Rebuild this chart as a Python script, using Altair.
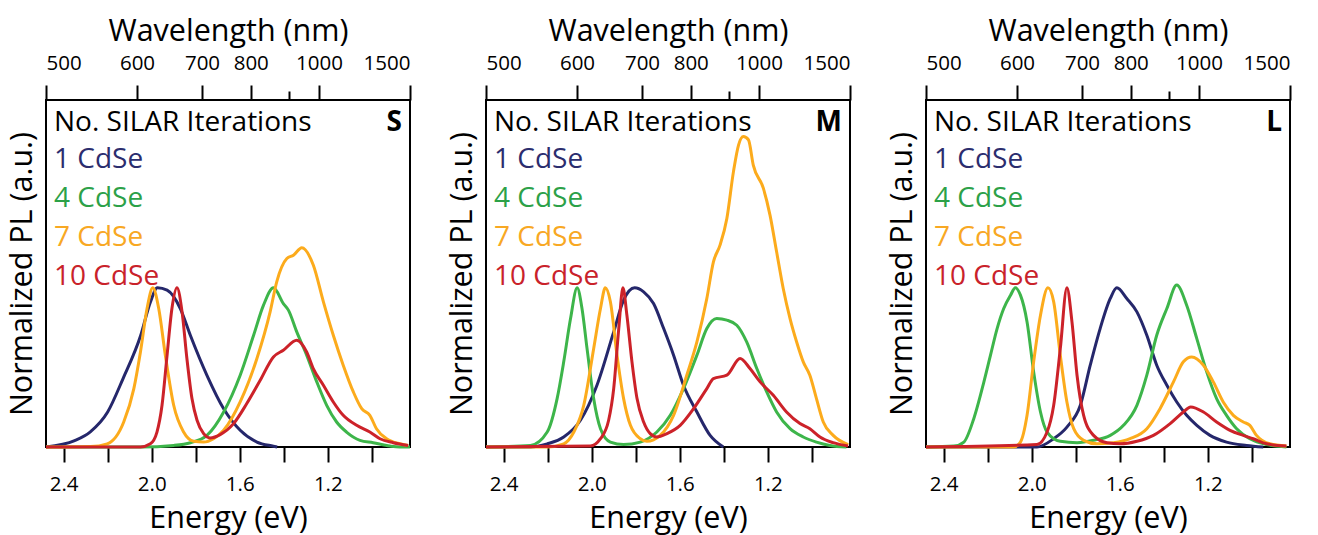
import altair as alt
import pandas as pd

# ---------------- data (energy in eV, normalized PL) ----------------
# Panel S
S1_E = [2.48, 2.35, 2.28, 2.2, 2.13, 2.05, 2.006, 1.974, 1.93, 1.87, 1.824, 1.749, 1.673, 1.598, 1.522, 1.447, 1.43]
S1_I = [0.0, 0.04, 0.094, 0.22, 0.43, 0.70, 0.91, 1.0, 0.985, 0.87, 0.70, 0.45, 0.24, 0.105, 0.031, 0.005, 0.0]
S4_E = [2.48, 2.05, 1.90, 1.824, 1.749, 1.673, 1.598, 1.537, 1.492, 1.447, 1.402, 1.379, 1.341, 1.296, 1.250, 1.205, 1.160, 1.115, 1.054, 0.994, 0.918, 0.873, 0.827]
S4_I = [0.0, 0.0, 0.01, 0.027, 0.073, 0.22, 0.451, 0.702, 0.891, 1.0, 0.901, 0.86, 0.723, 0.577, 0.409, 0.262, 0.157, 0.094, 0.042, 0.027, 0.006, 0.0, 0.0]
S7_E = [2.48, 2.278, 2.202, 2.127, 2.081, 2.051, 2.021, 1.995, 1.968, 1.938, 1.900, 1.855, 1.809, 1.764, 1.719, 1.673, 1.598, 1.522, 1.462, 1.432, 1.386, 1.356, 1.318, 1.266, 1.220, 1.175, 1.130, 1.084, 1.046, 1.009, 0.979, 0.933, 0.873, 0.835]
S7_I = [0.0, 0.003, 0.02, 0.157, 0.367, 0.597, 0.87, 1.0, 0.87, 0.577, 0.262, 0.094, 0.036, 0.031, 0.052, 0.105, 0.283, 0.556, 0.849, 1.038, 1.184, 1.205, 1.252, 1.143, 0.912, 0.702, 0.514, 0.346, 0.241, 0.199, 0.115, 0.052, 0.02, 0.01]
S10_E = [2.48, 2.051, 2.006, 1.976, 1.953, 1.930, 1.908, 1.885, 1.862, 1.840, 1.817, 1.794, 1.764, 1.734, 1.689, 1.628, 1.568, 1.507, 1.447, 1.402, 1.341, 1.296, 1.266, 1.220, 1.175, 1.130, 1.069, 1.009, 0.963, 0.903, 0.835]
S10_I = [0.0, 0.0, 0.02, 0.094, 0.262, 0.577, 0.87, 1.0, 0.849, 0.556, 0.304, 0.168, 0.084, 0.057, 0.078, 0.147, 0.273, 0.419, 0.566, 0.608, 0.671, 0.597, 0.493, 0.388, 0.283, 0.199, 0.136, 0.094, 0.052, 0.027, 0.01]

# Panel M
M1_E = [2.48, 2.278, 2.202, 2.127, 2.051, 1.976, 1.900, 1.855, 1.805, 1.764, 1.719, 1.673, 1.628, 1.583, 1.522, 1.462, 1.402]
M1_I = [0.0, 0.0, 0.02, 0.063, 0.168, 0.388, 0.723, 0.922, 1.0, 0.975, 0.901, 0.744, 0.577, 0.388, 0.22, 0.073, 0.0]
M4_E = [2.48, 2.278, 2.202, 2.157, 2.127, 2.096, 2.066, 2.044, 2.021, 1.991, 1.960, 1.915, 1.855, 1.779, 1.704, 1.643, 1.583, 1.522, 1.477, 1.432, 1.386, 1.341, 1.296, 1.250, 1.205, 1.160, 1.099, 1.039, 0.979, 0.918, 0.843]
M4_I = [0.0, 0.01, 0.094, 0.304, 0.535, 0.807, 1.0, 0.87, 0.618, 0.304, 0.115, 0.031, 0.015, 0.031, 0.094, 0.199, 0.367, 0.577, 0.744, 0.807, 0.797, 0.765, 0.66, 0.493, 0.346, 0.22, 0.115, 0.063, 0.031, 0.01, 0.0]
M7_E = [2.48, 2.202, 2.127, 2.081, 2.036, 1.991, 1.960, 1.938, 1.915, 1.885, 1.855, 1.824, 1.779, 1.749, 1.689, 1.628, 1.568, 1.522, 1.477, 1.447, 1.417, 1.386, 1.356, 1.333, 1.311, 1.288, 1.266, 1.220, 1.190, 1.160, 1.130, 1.099, 1.069, 1.039, 1.009, 0.979, 0.948, 0.903, 0.835]
M7_I = [0.0, 0.0, 0.02, 0.094, 0.262, 0.618, 0.87, 1.0, 0.912, 0.577, 0.304, 0.136, 0.052, 0.036, 0.073, 0.199, 0.451, 0.66, 0.933, 1.163, 1.268, 1.436, 1.73, 1.897, 1.95, 1.93, 1.771, 1.625, 1.457, 1.226, 0.996, 0.807, 0.66, 0.535, 0.451, 0.304, 0.157, 0.073, 0.015]
M10_E = [2.48, 2.006, 1.960, 1.923, 1.900, 1.877, 1.858, 1.840, 1.817, 1.794, 1.764, 1.734, 1.704, 1.658, 1.598, 1.537, 1.477, 1.447, 1.386, 1.326, 1.281, 1.235, 1.175, 1.115, 1.054, 1.009, 0.963, 0.903, 0.835]
M10_I = [0.0, 0.006, 0.052, 0.168, 0.367, 0.744, 1.0, 0.828, 0.535, 0.304, 0.157, 0.084, 0.063, 0.084, 0.136, 0.241, 0.367, 0.43, 0.451, 0.556, 0.493, 0.409, 0.325, 0.22, 0.147, 0.115, 0.063, 0.027, 0.006]

# Panel L
L1_E = [2.48, 1.976, 1.900, 1.840, 1.779, 1.734, 1.689, 1.643, 1.613, 1.568, 1.522, 1.477, 1.432, 1.386, 1.341, 1.296, 1.250, 1.190, 1.115, 1.024, 0.948]
L1_I = [0.0, 0.0, 0.052, 0.125, 0.262, 0.514, 0.744, 0.933, 1.0, 0.933, 0.849, 0.702, 0.514, 0.388, 0.283, 0.199, 0.136, 0.073, 0.031, 0.01, 0.0]
L4_E = [2.48, 2.353, 2.308, 2.263, 2.217, 2.187, 2.157, 2.127, 2.096, 2.074, 2.051, 2.021, 1.991, 1.960, 1.930, 1.870, 1.794, 1.719, 1.643, 1.583, 1.522, 1.477, 1.432, 1.386, 1.341, 1.296, 1.250, 1.205, 1.160, 1.115, 1.069, 1.009, 0.933, 0.843]
L4_I = [0.0, 0.006, 0.031, 0.178, 0.409, 0.577, 0.744, 0.87, 0.954, 1.0, 0.954, 0.786, 0.472, 0.22, 0.094, 0.036, 0.027, 0.042, 0.073, 0.136, 0.262, 0.451, 0.702, 0.87, 1.017, 0.891, 0.681, 0.472, 0.304, 0.199, 0.115, 0.052, 0.015, 0.0]
L7_E = [2.48, 2.081, 2.051, 2.021, 1.991, 1.960, 1.926, 1.900, 1.870, 1.840, 1.809, 1.764, 1.704, 1.628, 1.553, 1.477, 1.417, 1.356, 1.311, 1.273, 1.220, 1.175, 1.130, 1.084, 1.039, 1.009, 0.979, 0.918, 0.843]
L7_I = [0.0, 0.0, 0.031, 0.199, 0.535, 0.828, 1.0, 0.912, 0.577, 0.283, 0.115, 0.042, 0.02, 0.027, 0.052, 0.115, 0.241, 0.409, 0.535, 0.566, 0.514, 0.409, 0.283, 0.199, 0.157, 0.136, 0.073, 0.02, 0.006]
L10_E = [2.48, 1.976, 1.930, 1.900, 1.870, 1.840, 1.817, 1.794, 1.764, 1.719, 1.658, 1.598, 1.522, 1.447, 1.371, 1.311, 1.278, 1.220, 1.160, 1.099, 1.039, 0.994, 0.933, 0.843]
L10_I = [0.0, 0.015, 0.094, 0.262, 0.618, 1.0, 0.786, 0.451, 0.199, 0.073, 0.027, 0.02, 0.036, 0.073, 0.147, 0.22, 0.252, 0.22, 0.157, 0.105, 0.073, 0.052, 0.02, 0.006]

SERIES = ["1 CdSe", "4 CdSe", "7 CdSe", "10 CdSe"]
LINE_COLORS = ["#25276b", "#3db54a", "#fcab1c", "#cc2229"]
TEXT_COLORS = ["#2b2d6e", "#2ca148", "#f8a823", "#c9222a"]
PANELS = ["S", "M", "L"]
PANEL_DATA = {
    "S": [(S1_E, S1_I), (S4_E, S4_I), (S7_E, S7_I), (S10_E, S10_I)],
    "M": [(M1_E, M1_I), (M4_E, M4_I), (M7_E, M7_I), (M10_E, M10_I)],
    "L": [(L1_E, L1_I), (L4_E, L4_I), (L7_E, L7_I), (L10_E, L10_I)],
}
E_TICKS = [2.4, 2.2, 2.0, 1.8, 1.6, 1.4, 1.2, 1.0]
E_LABELS = ["2.4", "2.0", "1.6", "1.2"]
WL_TICKS = [500, 600, 700, 800, 900, 1000, 1500]
WL_UNLABELED = 900
HEADING = "No. SILAR Iterations"

FONT = "Open Sans"
W, H = 364, 347
TITLE_SIZE = 30.5
TEXT_SIZE = 28


def panel(p):
    rows = []
    for s, (e, i) in zip(SERIES, PANEL_DATA[p]):
        rows += [{"series": s, "E": a, "I": b} for a, b in zip(e, i)]
    df = pd.DataFrame(rows)

    xscale = alt.Scale(domain=[1240 / 1500, 1240 / 500], reverse=True, nice=False, zero=False)
    yscale = alt.Scale(domain=[0, 2.18], nice=False, zero=False)

    label_list = "[" + ",".join("'%s'" % l for l in E_LABELS) + "]"
    bottom_axis = alt.Axis(
        orient="bottom", values=E_TICKS, grid=False, domain=False,
        labelExpr="indexof(%s, format(datum.value, '.1f')) >= 0 ? format(datum.value, '.1f') : ''" % label_list,
        tickSize=15, tickWidth=2, tickColor="black",
        labelFont=FONT, labelFontSize=20.5, labelColor="black", labelPadding=12,
        title="Energy (eV)", titleFont=FONT, titleFontSize=TITLE_SIZE, titleFontWeight="normal",
        titleColor="black", titlePadding=9,
    )
    top_axis = alt.Axis(
        orient="top", values=[1240 / w for w in WL_TICKS], grid=False, domain=False,
        labelExpr="abs(1240/datum.value - %d) < 1 ? '' : format(1240/datum.value, '.0f')" % WL_UNLABELED,
        tickSize={"condition": {"test": "abs(1240/datum.value - %d) < 1" % WL_UNLABELED, "value": 9}, "value": 15},
        tickWidth=2, tickColor="black",
        labelFont=FONT, labelFontSize=20.5, labelColor="black", labelPadding=12,
        title="Wavelength (nm)", titleFont=FONT, titleFontSize=TITLE_SIZE, titleFontWeight="normal",
        titleColor="black", titlePadding=7,
    )
    y_axis = alt.Axis(
        ticks=False, labels=False, domain=False, grid=False,
        title="Normalized PL (a.u.)", titleFont=FONT, titleFontSize=TITLE_SIZE, titleFontWeight="normal",
        titleColor="black", titlePadding=9,
    )

    lines = alt.Chart(df).mark_line(strokeWidth=3, interpolate="monotone").encode(
        x=alt.X("E:Q", scale=xscale, axis=bottom_axis),
        y=alt.Y("I:Q", scale=yscale, axis=y_axis),
        color=alt.Color("series:N", scale=alt.Scale(domain=SERIES, range=LINE_COLORS), legend=None),
    )
    top = alt.Chart(df).mark_rule(opacity=0).encode(
        x=alt.X("E:Q", scale=xscale, axis=top_axis),
    )

    def text(t, color, y, x=8, align="left", weight="normal"):
        return alt.Chart(pd.DataFrame({"t": [t]})).mark_text(
            align=align, baseline="alphabetic", font=FONT, fontSize=TEXT_SIZE,
            fontWeight=weight, color=color,
        ).encode(text="t:N", x=alt.value(x), y=alt.value(y))

    texts = [text(HEADING, "black", 30.6), text(p, "black", 30.6, x=W - 8, align="right", weight="bold")]
    for k, (s, c) in enumerate(zip(SERIES, TEXT_COLORS)):
        texts.append(text(s, c, 68.3 + 38.8 * k))

    return alt.layer(lines, top, *texts).resolve_axis(x="independent").properties(width=W, height=H)


chart = alt.hconcat(*[panel(p) for p in PANELS], spacing=76, bounds="flush").configure_view(
    stroke="black", strokeWidth=2
).properties(padding={"left": 6, "top": 15, "right": 5, "bottom": 5}, background="white")

chart.save("out.html", embed_options={"renderer": "svg", "actions": False})
